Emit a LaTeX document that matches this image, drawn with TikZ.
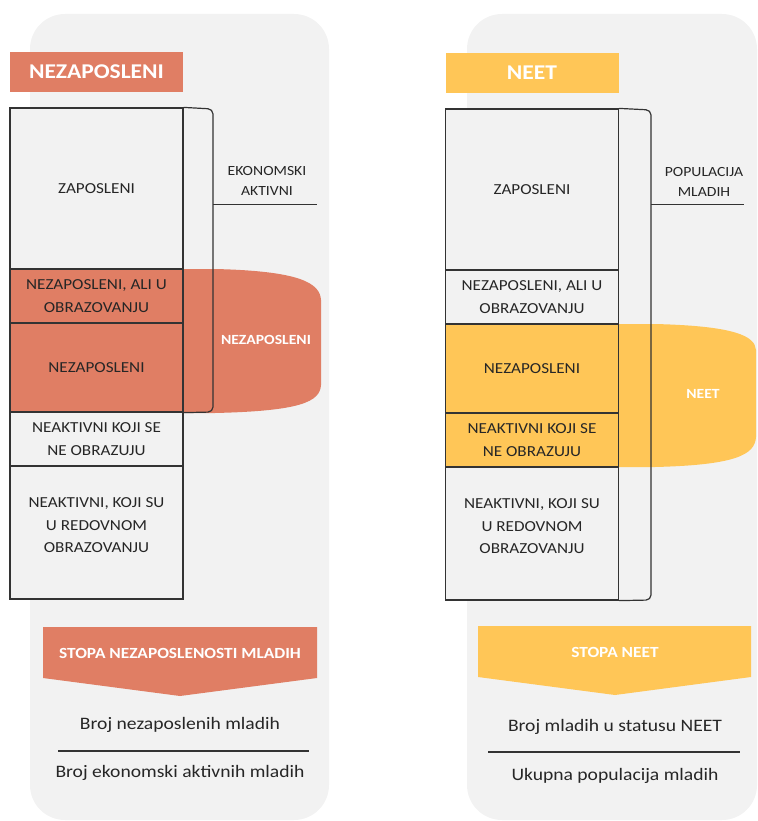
\documentclass[tikz,border=0pt]{standalone}
\usepackage{fontspec}
\setmainfont{Carlito}[FakeStretch=1.12]
\definecolor{salmon}{HTML}{E07E64}
\definecolor{neetyellow}{HTML}{FFC657}
\definecolor{panelgray}{HTML}{F2F2F2}
\definecolor{inkgray}{HTML}{262626}
\begin{document}
\begin{tikzpicture}[x=1pt, y=-1pt,
  every node/.style={font=\fontsize{15.3}{22.5}\selectfont, text=inkgray, align=center},
  cell/.style={draw=black!80, line width=1.2pt, fill=panelgray, minimum width=173, inner sep=0pt},
  head/.style={minimum width=173, minimum height=40, text=white, font=\fontsize{21}{24}\selectfont\bfseries},
  tag/.style={font=\fontsize{14}{20}\selectfont},
  inset/.style={text=white, font=\fontsize{14}{16}\selectfont\bfseries},
  rate/.style={text=white, font=\fontsize{15.5}{18}\selectfont\bfseries},
  ratio/.style={font=\fontsize{17.5}{20}\selectfont},
  bracket/.style={draw=black!80, line width=1.2pt, rounded corners=5}]
  \useasboundingbox (0,0) rectangle (757,821);
  % panels
  \fill[panelgray, rounded corners=35] (30,14) rectangle (329,820);
  \fill[panelgray, rounded corners=35] (467,14) rectangle (757,820);
  % half shapes behind the columns
  \fill[salmon] (183,269) -- (215,269) .. controls (300,271) and (320,283) .. (321,300)
    -- (321,385) .. controls (320,402) and (300,411) .. (215,413) -- (183,413) -- cycle;
  \fill[neetyellow] (619,324) -- (655,324) .. controls (735,326) and (755,336) .. (756,350)
    -- (756,437) .. controls (755,455) and (735,465) .. (655,467) -- (619,467) -- cycle;
  % headers
  \node[head, fill=salmon] (headL) at (96.5,72) {NEZAPOSLENI};
  \node[head, fill=neetyellow] (headR) at (532,73) {NEET};
  % left column
  \node[cell, minimum height=161] (zapL) at (96.5,188.5) {ZAPOSLENI};
  \node[cell, minimum height=54, fill=salmon] (aliL) at (96.5,296) {NEZAPOSLENI, ALI U\\OBRAZOVANJU};
  \node[cell, minimum height=89, fill=salmon] (nezL) at (96.5,367.5) {NEZAPOSLENI};
  \node[cell, minimum height=54] (neoL) at (96.5,439) {NEAKTIVNI KOJI SE\\NE OBRAZUJU};
  \node[cell, minimum height=133,
    label={[yshift=7]center:NEAKTIVNI, KOJI SU\\U REDOVNOM\\OBRAZOVANJU}] (redL) at (96.5,532.5) {};
  % right column
  \node[cell, minimum height=161] (zapR) at (532,189.5) {ZAPOSLENI};
  \node[cell, minimum height=54] (aliR) at (532,297) {NEZAPOSLENI, ALI U\\OBRAZOVANJU};
  \node[cell, minimum height=89, fill=neetyellow] (nezR) at (532,368.5) {NEZAPOSLENI};
  \node[cell, minimum height=54, fill=neetyellow] (neoR) at (532,440) {NEAKTIVNI KOJI SE\\NE OBRAZUJU};
  \node[cell, minimum height=133,
    label={[yshift=7]center:NEAKTIVNI, KOJI SU\\U REDOVNOM\\OBRAZOVANJU}] (redR) at (532,533.5) {};
  % brackets
  \draw[bracket] (zapL.north east) -- (213,109) -- (213,412) -- (nezL.south east);
  \draw[bracket] (zapR.north east) -- (651,110) -- (651,600) -- (redR.south east);
  \coordinate (ekonL) at (213,204);
  \coordinate (ekonE) at (317,204);
  \coordinate (popR) at (651,204);
  \coordinate (popE) at (744,204);
  \draw[black!80, line width=1pt] (ekonL) -- (ekonE);
  \draw[black!80, line width=1pt] (popR) -- (popE);
  \node[tag] (ekon) at (267,181) {EKONOMSKI\\AKTIVNI};
  \node[tag] (pop) at (704,182) {POPULACIJA\\MLADIH};
  % labels on the half shapes
  \node[inset] (nezTag) at (266,340) {NEZAPOSLENI};
  \node[inset] (neetTag) at (703,394) {NEET};
  % rate arrows
  \fill[salmon] (43,627) -- (317,627) -- (317,678) -- (180,696) -- (43,678) -- cycle;
  \fill[neetyellow] (478,626) -- (751,626) -- (751,677) -- (615,695) -- (478,677) -- cycle;
  \node[rate] (stopaL) at (180,653) {STOPA NEZAPOSLENOSTI MLADIH};
  \node[rate] (stopaR) at (615,652) {STOPA NEET};
  % fractions
  \node[ratio] (numL) at (180,725) {Broj nezaposlenih mladih};
  \node[ratio] (denL) at (180,773) {Broj ekonomski aktivnih mladih};
  \draw[black!80, line width=1.2pt] (58,751) -- (309,751);
  \node[ratio] (numR) at (615,727) {Broj mladih u statusu NEET};
  \node[ratio] (denR) at (615,776) {Ukupna populacija mladih};
  \draw[black!80, line width=1.2pt] (488,752) -- (740,752);
\end{tikzpicture}
\end{document}
